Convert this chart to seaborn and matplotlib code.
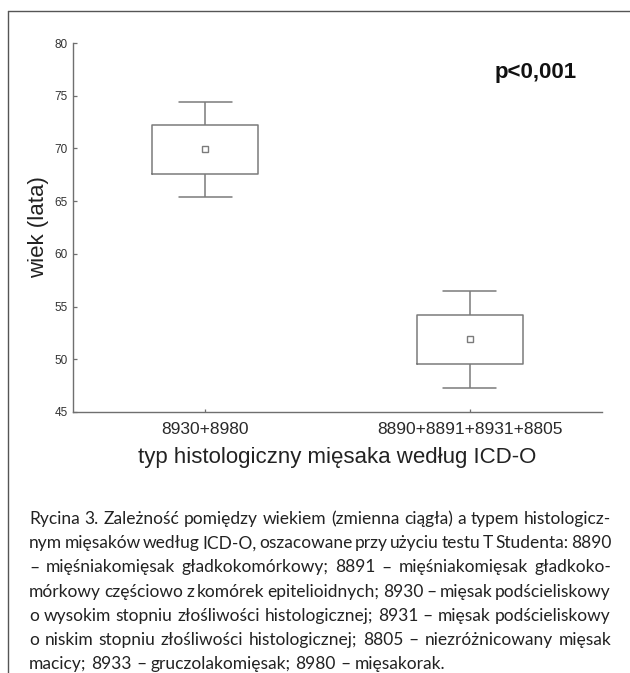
import matplotlib
matplotlib.use('Agg')
import matplotlib.pyplot as plt
import seaborn as sns
import pandas as pd
from matplotlib.lines import Line2D

groups = ['8930+8980', '8890+8891+8931+8805']
means = [69.9, 51.9]
box_low = [67.6, 49.6]
box_high = [72.2, 54.2]
whisk_low = [65.4, 47.3]
whisk_high = [74.4, 56.5]
y_ticks = [45, 50, 55, 60, 65, 70, 75, 80]

p_text = 'p<0,001'
y_title = 'wiek (lata)'
x_title = 'typ histologiczny mięsaka według ICD-O'
caption_lines = [
    'Rycina 3. Zależność pomiędzy wiekiem (zmienna ciągła) a typem histologicz-',
    'nym mięsaków według ICD-O, oszacowane przy użyciu testu T Studenta: 8890',
    '– mięśniakomięsak gładkokomórkowy; 8891 – mięśniakomięsak gładkoko-',
    'mórkowy częściowo z komórek epitelioidnych; 8930 – mięsak podścieliskowy',
    'o wysokim stopniu złośliwości histologicznej; 8931 – mięsak podścieliskowy',
    'o niskim stopniu złośliwości histologicznej; 8805 – niezróżnicowany mięsak',
    'macicy; 8933 – gruczolakomięsak; 8980 – mięsakorak.',
]

# five summary values per group -> box edges and whisker ends come out exactly
rows = []
for g, lo, q1, m, q3, hi in zip(groups, whisk_low, box_low, means, box_high, whisk_high):
    for v in (lo, q1, m, q3, hi):
        rows.append({'typ': g, 'wiek': v})
df = pd.DataFrame(rows)

sns.set_theme(style='white')
plt.rcParams['font.family'] = ['Liberation Sans', 'DejaVu Sans']

W, H = 630, 673
fig = plt.figure(figsize=(W / 100, H / 100), dpi=100)
ax = fig.add_axes([73 / W, 1 - 412 / H, 529 / W, 369 / H])

grey = '#7b7b7b'
sns.boxplot(data=df, x='typ', y='wiek', order=groups, whis=(0, 100), width=0.4,
            fill=False, color=grey, linewidth=1.1, showfliers=False,
            medianprops={'visible': False}, ax=ax)
n_lines = len(ax.lines)
sns.pointplot(x=groups, y=means, order=groups, color=grey, markers='s',
              linestyle='none', markersize=4, markeredgewidth=1.0,
              errorbar=None, ax=ax)
for ln in ax.lines[n_lines:]:
    ln.set_markerfacecolor('white')
    ln.set_markeredgecolor(grey)

ax.set_xlim(-0.5, 1.5)
ax.set_ylim(45, 80)
ax.set_yticks(y_ticks)
for s in ['top', 'right']:
    ax.spines[s].set_visible(False)
for s in ['left', 'bottom']:
    ax.spines[s].set_color('#6f6f6f')
    ax.spines[s].set_linewidth(1.0)
ax.tick_params(axis='y', direction='in', length=3, width=0.9, color='#6f6f6f',
               pad=4, labelsize=8.5, labelcolor='#333333', left=True)
ax.tick_params(axis='x', direction='in', length=2.5, width=0.9, color='#6f6f6f',
               pad=7, labelsize=12.5, labelcolor='#2a2a2a', bottom=True)

ax.set_ylabel(y_title, fontsize=16, color='#222222')
ax.yaxis.set_label_coords(-0.046, 0.5)
ax.set_xlabel(x_title, fontsize=16, color='#222222')
ax.xaxis.set_label_coords(0.5, -0.095)

ax.text(0.875, 0.921, p_text, transform=ax.transAxes, ha='center', va='center',
        fontsize=16, fontweight='bold', color='#111111')

# frame of the figure panel
fig.add_artist(Line2D([8 / W, 1], [1 - 11 / H, 1 - 11 / H], transform=fig.transFigure,
                      color='#555555', lw=1.0))
fig.add_artist(Line2D([8 / W, 8 / W], [1 - 11 / H, 0], transform=fig.transFigure,
                      color='#555555', lw=1.0))

# justified caption
fig.canvas.draw()
rend = fig.canvas.get_renderer()
cap_family = ['Lato', 'DejaVu Sans']
cap_left, cap_right = 29, 611


def text_width(s, fs):
    t = fig.text(0, 0, s, fontsize=fs, family=cap_family)
    w = t.get_window_extent(rend).width
    t.remove()
    return w


# font size such that the widest line still keeps 60% of a normal space
base_fs = 12
base_space = text_width('a a', base_fs) - 2 * text_width('a', base_fs)
need = 0
for line in caption_lines[:-1]:
    words = line.split(' ')
    tight = sum(text_width(w, base_fs) for w in words) + 0.6 * base_space * (len(words) - 1)
    need = max(need, tight)
cap_fs = base_fs * (cap_right - cap_left) / need
space_w = text_width('a a', cap_fs) - 2 * text_width('a', cap_fs)

for i, line in enumerate(caption_lines):
    words = line.split(' ')
    widths = [text_width(w, cap_fs) for w in words]
    if i < len(caption_lines) - 1:
        gap = (cap_right - cap_left - sum(widths)) / (len(words) - 1)
    else:
        gap = space_w
    x = cap_left
    y = 524 + 24.2 * i
    for w, wd in zip(words, widths):
        fig.text(x / W, 1 - y / H, w, fontsize=cap_fs, family=cap_family,
                 ha='left', va='baseline', color='#222222')
        x += wd + gap

fig.savefig('out.png', dpi=100)
